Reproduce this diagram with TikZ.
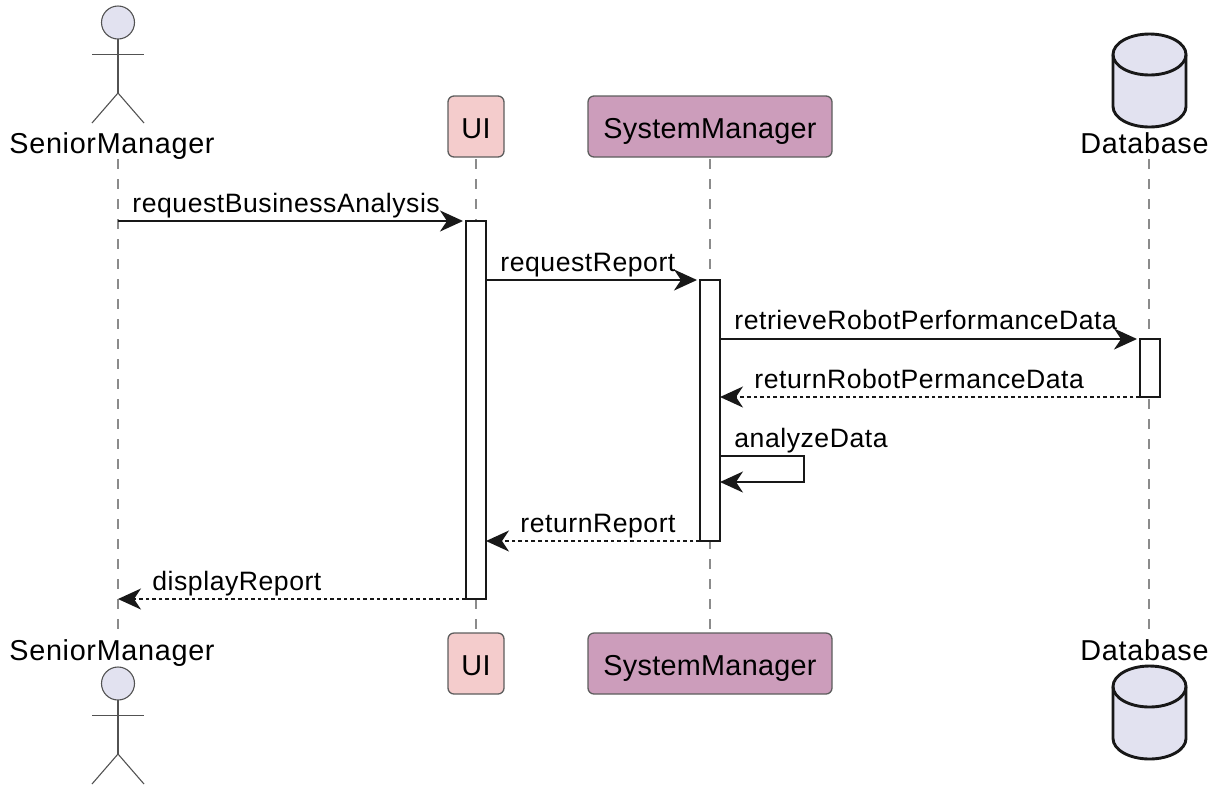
\documentclass[tikz,border=0pt]{standalone}
\usepackage{fontspec}
\setmainfont{Liberation Sans}
\usetikzlibrary{arrows.meta}
\definecolor{actfill}{HTML}{E2E2F0}
\definecolor{uifill}{HTML}{F4CCCC}
\definecolor{smfill}{HTML}{CC9DBB}
\definecolor{ink}{HTML}{181818}
\tikzset{
  x=0.5pt,y=-0.5pt,
  lifeline/.style={draw=ink!50,line width=0.75pt,dash pattern=on 5pt off 5pt},
  partbox/.style={draw=ink!70,line width=0.65pt,rounded corners=3pt,inner sep=0pt,minimum height=30.5pt,text height=11.5pt,text depth=0pt,font=\fontsize{14.4}{14.4}\selectfont\addfontfeature{LetterSpace=1},text=black},
  actbox/.style={draw=ink,line width=1pt,fill=white,inner sep=0pt,outer sep=0pt,minimum width=10pt},
  actorname/.style={inner sep=0pt,font=\fontsize{14.4}{14.4}\selectfont\addfontfeature{LetterSpace=2.4},text=black,anchor=base},
  msglabel/.style={inner sep=0pt,font=\fontsize{13.3}{13.3}\selectfont\addfontfeature{LetterSpace=2},text=black,anchor=base west},
  figure/.style={draw=ink!75,line width=0.55pt},
  msg/.style={draw=ink,line width=0.95pt,-{Stealth[length=11.5pt,width=10.5pt,inset=3.5pt]}},
  ret/.style={msg,dash pattern=on 1.8pt off 1.5pt},
  gapped/.style={shorten >=1.5pt},
  dbshape/.style={draw=ink,line width=1.45pt,fill=actfill},
}
\newcommand{\stickman}[1]{%
  \draw[figure,fill=actfill] (118,#1+16.5) circle[radius=8.25pt];
  \draw[figure] (118,#1+33)--(118,#1+87);
  \draw[figure] (92,#1+48.5)--(144,#1+48.5);
  \draw[figure] (92,#1+117)--(118,#1+87)--(144,#1+117);
}
\newcommand{\dbcyl}[1]{%
  \draw[dbshape] (1113,#1+20.5) .. controls (1113,#1+9.2) and (1129.3,#1) .. (1149.5,#1)
    .. controls (1169.7,#1) and (1186,#1+9.2) .. (1186,#1+20.5)
    -- (1186,#1+72.5) .. controls (1186,#1+83.8) and (1169.7,#1+93) .. (1149.5,#1+93)
    .. controls (1129.3,#1+93) and (1113,#1+83.8) .. (1113,#1+72.5) -- cycle;
  \draw[dbshape,fill=none] (1113,#1+20.5) .. controls (1113,#1+31.8) and (1129.3,#1+41) .. (1149.5,#1+41)
    .. controls (1169.7,#1+41) and (1186,#1+31.8) .. (1186,#1+20.5);
}
\begin{document}
\begin{tikzpicture}
\useasboundingbox (0,0) rectangle (1218,794);
% lifelines
\coordinate (sMtop) at (118,159);
\coordinate (sMbot) at (118,631);
\coordinate (uitop) at (476,159);
\coordinate (uibot) at (476,631);
\coordinate (smtop) at (710,159);
\coordinate (smbot) at (710,631);
\coordinate (dbtop) at (1149,159);
\coordinate (dbbot) at (1149,631);
\draw[lifeline] (sMtop)--(sMbot);
\draw[lifeline] (uitop)--(uibot);
\draw[lifeline] (smtop)--(smbot);
\draw[lifeline] (dbtop)--(dbbot);
% actors and database
\stickman{6}
\stickman{667}
\dbcyl{34}
\dbcyl{666}
\node[actorname] (seniorT) at (112,153) {SeniorManager};
\node[actorname] (seniorB) at (112,660) {SeniorManager};
\node[actorname] (dbT) at (1144.5,153) {Database};
\node[actorname] (dbB) at (1144.5,660) {Database};
% participants
\node[partbox,fill=uifill,minimum width=28pt] (uiT) at (476,126.5) {UI};
\node[partbox,fill=uifill,minimum width=28pt] (uiB) at (476,663.5) {UI};
\node[partbox,fill=smfill,minimum width=122pt] (smT) at (710,126.5) {SystemManager};
\node[partbox,fill=smfill,minimum width=122pt] (smB) at (710,663.5) {SystemManager};
% activations
\node[actbox,minimum height=189pt] (uiact) at (476,410) {};
\node[actbox,minimum height=130.5pt] (smact) at (710,410.5) {};
\node[actbox,minimum height=29pt] (dbact) at (1150,368) {};
% messages
\coordinate (m1s) at (118,221);
\coordinate (m7e) at (118,599);
\coordinate (selfa) at (804,456);
\coordinate (selfb) at (804,482);
\coordinate (selfs) at (720,456);
\coordinate (selfe) at (720,482);
\draw[msg,gapped] (m1s)--(uiact.north west);
\draw[msg,gapped] (uiact.east |- smact.north)--(smact.north west);
\draw[msg,gapped] (smact.east |- dbact.north)--(dbact.north west);
\draw[ret] (dbact.south west)--(smact.east |- dbact.south);
\draw[msg] (selfs)--(selfa)--(selfb)--(selfe);
\draw[ret] (smact.south west)--(uiact.east |- smact.south);
\draw[ret] (uiact.south west)--(m7e);
% labels
\node[msglabel] (l1) at (132,212) {requestBusinessAnalysis};
\node[msglabel] (l2) at (500,271) {requestReport};
\node[msglabel] (l3) at (734,329) {retrieveRobotPerformanceData};
\node[msglabel] (l4) at (754,388) {returnRobotPermanceData};
\node[msglabel] (l5) at (734,447) {analyzeData};
\node[msglabel] (l6) at (520,532) {returnReport};
\node[msglabel] (l7) at (152,590) {displayReport};
\end{tikzpicture}
\end{document}
